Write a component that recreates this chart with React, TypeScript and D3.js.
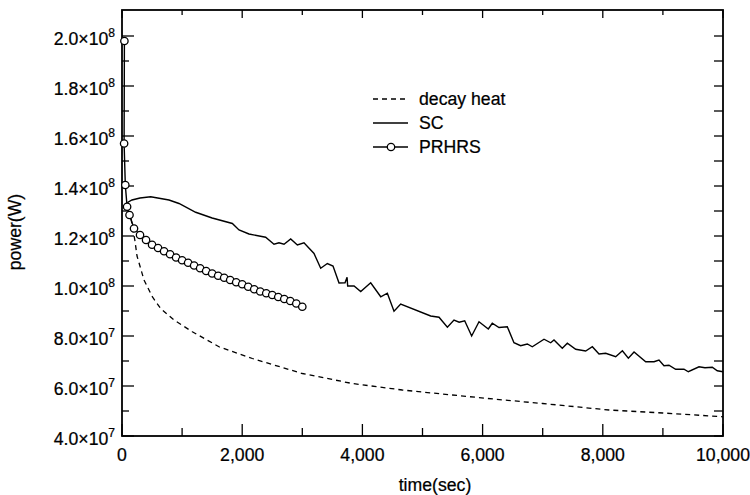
import React from "react";
import * as d3 from "d3";

const decayT = [150, 216, 250, 366, 504, 644, 865, 1170, 1614, 2169, 3001, 3832, 4664, 5496, 6217, 7000, 8103, 9000, 10000];
const decayV = [1.27e8, 1.18e8, 1.12e8, 1.024e8, 9.57e7, 9.1e7, 8.64e7, 8.17e7, 7.57e7, 7.1e7, 6.5e7, 6.1e7, 5.84e7, 5.64e7, 5.47e7, 5.3e7, 5.04e7, 4.92e7, 4.77e7];

const scT = [60, 100, 166, 300, 477, 782, 948, 1226, 1500, 1836, 1947, 2113, 2390, 2529, 2612, 2696, 2807, 2918, 3028, 3195, 3306, 3417, 3511, 3611, 3711, 3745, 3755, 3861, 3972, 4138, 4305, 4415, 4526, 4637, 5136, 5275, 5414, 5524, 5610, 5702, 5818, 5940, 6095, 6161, 6273, 6411, 6522, 6633, 6744, 6827, 7022, 7133, 7188, 7326, 7410, 7549, 7715, 7826, 7937, 8048, 8215, 8326, 8425, 8520, 8714, 8852, 8935, 9018, 9101, 9212, 9351, 9423, 9601, 9700, 9822, 9905, 10000];
const scV = [1.31e8, 1.335e8, 1.344e8, 1.352e8, 1.357e8, 1.344e8, 1.33e8, 1.295e8, 1.272e8, 1.25e8, 1.224e8, 1.208e8, 1.195e8, 1.167e8, 1.173e8, 1.167e8, 1.188e8, 1.164e8, 1.173e8, 1.13e8, 1.071e8, 1.09e8, 1.08e8, 1.012e8, 1.013e8, 1.035e8, 1.0e8, 1.0e8, 9.78e7, 1.013e8, 9.57e7, 9.71e7, 8.99e7, 9.28e7, 8.8e7, 8.75e7, 8.35e7, 8.64e7, 8.55e7, 8.61e7, 8.0e7, 8.57e7, 8.28e7, 8.51e7, 8.34e7, 8.37e7, 7.73e7, 7.61e7, 7.68e7, 7.57e7, 7.87e7, 7.73e7, 7.84e7, 7.51e7, 7.71e7, 7.47e7, 7.4e7, 7.57e7, 7.28e7, 7.31e7, 7.17e7, 7.41e7, 7.11e7, 7.36e7, 6.97e7, 6.97e7, 7.04e7, 6.81e7, 6.83e7, 6.67e7, 6.67e7, 6.57e7, 6.77e7, 6.73e7, 6.75e7, 6.61e7, 6.57e7];

const prT = [40, 35, 55, 85, 125, 200, 300, 400, 500, 600, 700, 800, 900, 1000, 1100, 1200, 1300, 1400, 1500, 1600, 1700, 1800, 1900, 2000, 2100, 2200, 2300, 2400, 2500, 2600, 2700, 2800, 2900, 3000];
const prV = [1.98e8, 1.57e8, 1.404e8, 1.317e8, 1.284e8, 1.23e8, 1.204e8, 1.184e8, 1.165e8, 1.152e8, 1.139e8, 1.127e8, 1.114e8, 1.103e8, 1.093e8, 1.082e8, 1.071e8, 1.06e8, 1.05e8, 1.041e8, 1.033e8, 1.024e8, 1.015e8, 1.007e8, 9.97e7, 9.87e7, 9.78e7, 9.71e7, 9.64e7, 9.56e7, 9.48e7, 9.4e7, 9.3e7, 9.17e7];

const xTicks = [0, 2000, 4000, 6000, 8000, 10000];
const xMinor = [1000, 3000, 5000, 7000, 9000];
const yTicks = [4e7, 6e7, 8e7, 1e8, 1.2e8, 1.4e8, 1.6e8, 1.8e8, 2e8];
const yMinor = [5e7, 7e7, 9e7, 1.1e8, 1.3e8, 1.5e8, 1.7e8, 1.9e8];

const legendItems = ["decay heat", "SC", "PRHRS"];

const FONT = "'Liberation Sans', Arial, sans-serif";
const SX = 0.93;

function T({ x, y, anchor = "start", size = 19, rotate = 0, children }: any) {
  return (
    <text
      transform={`translate(${x},${y}) rotate(${rotate}) scale(${SX},1)`}
      fontSize={size}
      textAnchor={anchor}
      stroke="#000"
      strokeWidth={0.25}
    >
      {children}
    </text>
  );
}

export default function App() {
  const L = 122, R = 723, Tp = 10, B = 436;
  const x = d3.scaleLinear().domain([0, 10000]).range([L, R]);
  const y = d3.scaleLinear().domain([4e7, 2.104e8]).range([B, Tp]);

  const line = d3.line<[number, number]>().x((d) => x(d[0])).y((d) => y(d[1]));
  const decay = line(decayT.map((t, i) => [t, decayV[i]]));
  const sc = line(scT.map((t, i) => [t, scV[i]]));
  const pr = line(prT.map((t, i) => [t, prV[i]]));

  const fmtX = d3.format(",");
  const sup = (v: number) => {
    const e = Math.floor(Math.log10(v) + 1e-9);
    const m = v / Math.pow(10, e);
    return [m.toFixed(1), e];
  };

  return (
    <svg width={750} height={495} style={{ position: "absolute", left: 0, top: 0, background: "#fff" }} fontFamily={FONT}>
      <rect x={0} y={0} width={750} height={495} fill="#fff" />
      <rect x={L} y={Tp} width={R - L} height={B - Tp} fill="none" stroke="#000" strokeWidth={1.8} />
      {xTicks.map((t) => (
        <g key={"xt" + t}>
          <line x1={x(t)} x2={x(t)} y1={B} y2={B - 12} stroke="#000" strokeWidth={1.3} />
          <line x1={x(t)} x2={x(t)} y1={Tp} y2={Tp + 8} stroke="#000" strokeWidth={1.3} />
          <T x={x(t)} y={461} anchor="middle">{fmtX(t)}</T>
        </g>
      ))}
      {xMinor.map((t) => (
        <g key={"xm" + t}>
          <line x1={x(t)} x2={x(t)} y1={B} y2={B - 8} stroke="#000" strokeWidth={1.3} />
          <line x1={x(t)} x2={x(t)} y1={Tp} y2={Tp + 5} stroke="#000" strokeWidth={1.3} />
        </g>
      ))}
      {yTicks.map((v) => {
        const [m, e] = sup(v);
        return (
          <g key={"yt" + v}>
            <line x1={L} x2={L + 12} y1={y(v)} y2={y(v)} stroke="#000" strokeWidth={1.3} />
            <line x1={R} x2={R - 9} y1={y(v)} y2={y(v)} stroke="#000" strokeWidth={1.3} />
            <T x={115} y={y(v) + 9} anchor="end">
              {m + "×10"}
              <tspan fontSize={13} dy={-8}>{e}</tspan>
            </T>
          </g>
        );
      })}
      {yMinor.map((v) => (
        <g key={"ym" + v}>
          <line x1={L} x2={L + 7} y1={y(v)} y2={y(v)} stroke="#000" strokeWidth={1.3} />
          <line x1={R} x2={R - 9} y1={y(v)} y2={y(v)} stroke="#000" strokeWidth={1.3} />
        </g>
      ))}
      <T x={435} y={491} anchor="middle">time(sec)</T>
      <T x={21} y={232} anchor="middle" rotate={-90}>power(W)</T>

      <path d={decay || ""} fill="none" stroke="#000" strokeWidth={1.3} strokeDasharray="5,4" />
      <path d={sc || ""} fill="none" stroke="#000" strokeWidth={1.4} />
      <path d={pr || ""} fill="none" stroke="#000" strokeWidth={1.4} />
      {prT.map((t, i) => (
        <circle key={"pc" + i} cx={x(t)} cy={y(prV[i])} r={3.7} fill="#fff" stroke="#000" strokeWidth={1.3} />
      ))}

      {legendItems.map((name, i) => {
        const ly = 99 + i * 24;
        return (
          <g key={name}>
            <line x1={373} x2={408} y1={ly} y2={ly} stroke="#000" strokeWidth={1.3} strokeDasharray={i === 0 ? "5,4" : undefined} />
            {i === 2 && <circle cx={391} cy={ly} r={3.7} fill="#fff" stroke="#000" strokeWidth={1.3} />}
            <T x={419} y={ly + 6}>{name}</T>
          </g>
        );
      })}
    </svg>
  );
}
